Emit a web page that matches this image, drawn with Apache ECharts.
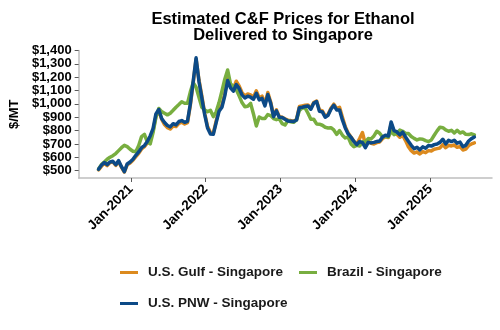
<!DOCTYPE html>
<html>
<head>
<meta charset="utf-8">
<script src="https://cdn.jsdelivr.net/npm/echarts@6/dist/echarts.min.js"></script>
<style>
  html, body { margin: 0; padding: 0; background: #ffffff; }
  #chart { width: 500px; height: 330px; }
</style>
</head>
<body>
<div id="chart"></div>
<script>
// Bi-weekly price observations, US$ per metric ton
const firstObservation = '2020-07-27';
const stepDays = 14;

const usGulf = [
  505, 532, 555, 538, 560, 565, 540, 568, 525, 490,
  545, 558, 578, 605, 630, 662, 680, 708, 748, 800,
  905, 950, 885, 845, 822, 812, 835, 830, 855, 862,
  850, 860, 990, 1160, 1335, 1180, 1060, 930, 830, 785,
  780, 872, 958, 990, 1075, 1195, 1140, 1115, 1170, 1135,
  1085, 1060, 1075, 1068, 1050, 1098, 1045, 1058, 1000, 1085,
  1015, 912, 955, 905, 900, 888, 878, 875, 870, 884,
  980, 985, 990, 992, 968, 1010, 1022, 955, 948, 908,
  920, 968, 998, 965, 975, 900, 830, 782, 752, 720,
  698, 740, 785, 700, 722, 705, 700, 710, 715, 740,
  755, 748, 850, 790, 772, 750, 765, 725, 680, 650,
  632, 640, 625, 642, 635, 650, 648, 660, 665, 670,
  695, 672, 690, 685, 692, 675, 680, 655, 662, 688,
  700, 708
];

const brazil = [
  512, 545, 565, 585, 600, 612, 628, 650, 672, 690,
  680, 660, 645, 642, 688, 755, 772, 716, 700, 785,
  900, 966, 942, 930, 918, 930, 952, 975, 995, 1016,
  1005, 1004, 1090, 1160, 1125, 1050, 975, 954, 942, 952,
  905, 941, 1010, 1095, 1185, 1254, 1150, 1130, 1108, 1060,
  1010, 979, 982, 1004, 925, 835, 902, 891, 890, 920,
  912, 890, 882, 888, 852, 842, 875, 866, 862, 880,
  950, 970, 970, 930, 885, 885, 850, 848, 840, 825,
  820, 822, 805, 772, 800, 766, 745, 752, 700, 680,
  690, 685, 716, 716, 740, 738, 760, 795, 780, 752,
  758, 752, 795, 770, 780, 804, 795, 779, 778, 756,
  742, 730, 738, 735, 725, 718, 730, 765, 798, 826,
  822, 805, 795, 802, 782, 802, 782, 790, 772, 770,
  776, 768
];

const usPnw = [
  510, 540, 561, 545, 565, 570, 545, 575, 530, 492,
  550, 565, 585, 615, 640, 672, 688, 718, 760, 815,
  925, 958, 890, 860, 838, 828, 852, 843, 868, 875,
  862, 870, 1000, 1170, 1345, 1170, 1045, 920, 820, 775,
  772, 860, 945, 975, 1060, 1175, 1120, 1095, 1145, 1116,
  1068, 1045, 1058, 1050, 1035, 1080, 1030, 1041, 985, 1070,
  1004, 904, 948, 900, 898, 885, 872, 870, 868, 879,
  972, 975, 980, 985, 960, 1005, 1018, 945, 940, 900,
  915, 960, 990, 955, 955, 880, 820, 775, 750, 718,
  695, 718, 710, 672, 712, 708, 712, 718, 722, 752,
  766, 760, 865, 800, 790, 768, 788, 752, 720, 690,
  665, 675, 656, 678, 668, 688, 684, 695, 700, 712,
  735, 700, 728, 718, 728, 706, 714, 680, 690, 722,
  740, 752
];

const seriesNames = ['U.S. Gulf - Singapore', 'Brazil - Singapore', 'U.S. PNW - Singapore'];
const seriesColors = ['#DC8A1E', '#78AE40', '#0C4A87'];
const yearTicks = ['2021-01-01', '2022-01-01', '2023-01-01', '2024-01-01', '2025-01-01'];
const priceTicks = [500, 600, 700, 800, 900, 1000, 1100, 1200, 1300, 1400];

const DAY = 86400000;
const utc = (d) => Date.parse(d + 'T00:00:00Z');
const t0 = utc(firstObservation);
const dates = usPnw.map((_, i) => t0 + i * stepDays * DAY);
const pair = (vals) => vals.map((v, i) => [dates[i], v]);
const yearTickTimes = yearTicks.map(utc);

const FONT = "'Liberation Sans', Arial, sans-serif";

const chart = echarts.init(document.getElementById('chart'), null, { renderer: 'canvas' });

chart.setOption({
  animation: false,
  backgroundColor: '#ffffff',
  title: {
    text: 'Estimated C&F Prices for Ethanol\nDelivered to Singapore',
    left: 278,
    textAlign: 'center',
    top: 6,
    textStyle: {
      fontFamily: FONT,
      fontSize: 16.5,
      fontWeight: 'bold',
      color: '#000000',
      lineHeight: 16
    }
  },
  legend: {
    left: 115,
    top: 260,
    width: 345,
    itemWidth: 18,
    itemHeight: 3,
    itemGap: 16,
    icon: 'rect',
    textStyle: {
      fontFamily: FONT,
      fontSize: 13.5,
      fontWeight: 'bold',
      color: '#1a1a1a',
      lineHeight: 15,
      padding: [0, 0, 0, 5]
    },
    data: seriesNames
  },
  grid: {
    left: 72,
    right: 8,
    top: 50.5,
    bottom: 152,
    containLabel: false
  },
  xAxis: {
    type: 'value',
    min: utc('2020-04-21'),
    max: utc('2025-10-29'),
    splitLine: { show: false },
    axisLine: { show: true, lineStyle: { color: '#BFBFBF', width: 1.5 } },
    axisTick: {
      show: true,
      length: 4,
      lineStyle: { color: '#595959' },
      customValues: yearTickTimes
    },
    axisLabel: {
      rotate: 45,
      margin: 9,
      fontFamily: FONT,
      fontSize: 13.5,
      fontWeight: 'bold',
      color: '#000000',
      customValues: yearTickTimes,
      formatter: (v) => 'Jan-' + new Date(v).getUTCFullYear()
    }
  },
  yAxis: {
    type: 'value',
    min: 445,
    max: 1400,
    name: '$/MT',
    nameLocation: 'middle',
    nameGap: 54,
    nameRotate: 90,
    nameTextStyle: {
      fontFamily: FONT,
      fontSize: 13,
      fontWeight: 'bold',
      color: '#000000'
    },
    splitLine: { show: false },
    axisLine: { show: true, lineStyle: { color: '#BFBFBF', width: 1.5 } },
    axisTick: {
      show: true,
      length: 4,
      lineStyle: { color: '#595959' },
      customValues: priceTicks
    },
    axisLabel: {
      margin: 7,
      fontFamily: FONT,
      fontSize: 13,
      fontWeight: 'bold',
      color: '#000000',
      customValues: priceTicks,
      formatter: (v) => '$' + v.toLocaleString('en-US')
    }
  },
  series: [usGulf, brazil, usPnw].map((vals, k) => ({
    name: seriesNames[k],
    type: 'line',
    data: pair(vals),
    showSymbol: false,
    symbol: 'none',
    color: seriesColors[k],
    lineStyle: { width: 3.5, color: seriesColors[k], join: 'round', cap: 'round' },
    z: 2 + k
  }))
});
</script>
</body>
</html>
